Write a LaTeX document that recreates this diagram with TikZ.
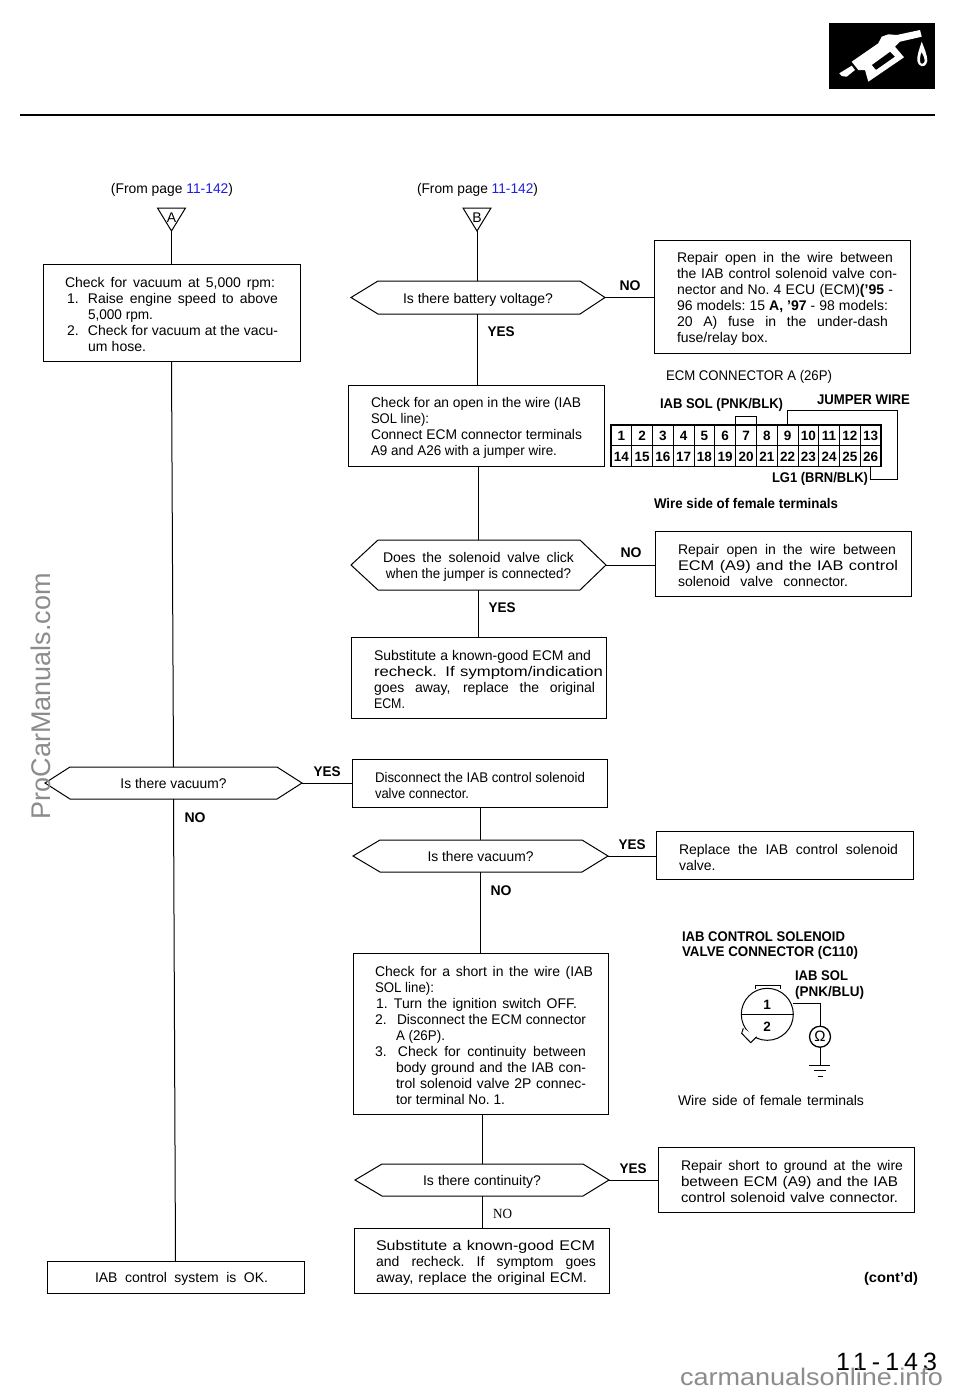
\documentclass[tikz,border=0pt]{standalone}
\usepackage{fontspec}
\usepackage{graphicx}
\setmainfont{Liberation Sans}
\newfontfamily\serifN{Liberation Serif}
\usetikzlibrary{calc}
\definecolor{linkblue}{RGB}{30,30,225}
\definecolor{wmgrey}{RGB}{140,140,140}
\newsavebox\fitb
\newcommand\Jw[2]{\sbox\fitb{\spaceskip=.278em\xspaceskip=.278em\relax#2}\ifdim\wd\fitb<#1pt\makebox[#1pt][s]{\spaceskip=.278em plus 1em\xspaceskip=.278em plus 1em\relax#2}\else\resizebox{#1pt}{\height}{\usebox\fitb}\fi}
\newcommand\Sw[2]{\resizebox{#1pt}{\height}{#2}}
\newcommand\HexOut[3]{\draw[flow] (#1.west) -- ($(#1.north west)+(#2,0)$) -- ($(#1.north east)+(-#3,0)$) -- (#1.east) -- ($(#1.south east)+(-#3,0)$) -- ($(#1.south west)+(#2,0)$) -- cycle;}
\newcommand\TriOut[1]{\draw[flow] (#1.north west) -- (#1.north east) -- (#1.south) -- cycle;}
\tikzset{
  flow/.style={line width=1pt,black},
  boxn/.style={draw,line width=1pt,anchor=north west,outer sep=0pt,inner ysep=0pt,align=left,font=\fontsize{14}{16}\selectfont,execute at begin node={\leavevmode\rule{0pt}{14.5pt}}},
  hexn/.style={inner sep=0pt,outer sep=0pt,align=center,font=\fontsize{14}{16}\selectfont,execute at begin node={\leavevmode\rule{0pt}{14.5pt}}},
  trin/.style={inner sep=0pt,outer sep=0pt,minimum width=28pt,minimum height=23pt,font=\fontsize{14}{14}\selectfont},
  txt/.style={inner sep=0pt,outer sep=0pt,yshift=-2pt,font=\fontsize{14}{16}\selectfont},
  bld/.style={inner sep=0pt,outer sep=0pt,yshift=-1pt,align=left,font=\fontsize{14}{16}\selectfont\bfseries},
  cell/.style={draw,line width=0.8pt,inner sep=0pt,outer sep=0pt,minimum width=20.77pt,minimum height=20.85pt,text height=9.6pt,text depth=0pt,font=\fontsize{13.5}{14}\selectfont\bfseries},
  wm/.style={inner sep=0pt,outer sep=0pt,text=wmgrey,font=\fontsize{27}{27}\selectfont},
}
\begin{document}
\begin{tikzpicture}[x=1pt,y=-1pt]
\useasboundingbox (0,0) rectangle (960,1393);
\fill[white] (0,0) rectangle (960,1393);

% header
\fill[black] (829,22.5) rectangle (935,89);
\draw[line width=2.2pt] (20,115) -- (935,115);
\fill[white,even odd rule]
  (839.3,73.3) -- (851.7,65.7) -- (855,70) -- (846.7,76.7) -- (841.7,76) -- cycle;
\fill[white,even odd rule]
  (851.7,61.7) -- (878.3,43.3) -- (881.7,36.7) -- (888.3,34.3) -- (896.7,35) -- (920,30) -- (921.7,36.7) -- (900,41.7) -- (895,46.7) -- (904,57.3) -- (868.3,81.7) -- (865,70) -- (858.3,70) -- cycle
  (871.7,65) -- (890,51.7) -- (895,56.7) -- (876,70) -- cycle;
\fill[white,even odd rule]
  (921.7,41.7) .. controls (919,50) and (917,55) .. (917.3,61) .. controls (918,66) and (925,70) .. (927.3,61) .. controls (927.5,55) and (924,48) .. (921.7,41.7) -- cycle
  (921.5,52) .. controls (920,56) and (919.5,60) .. (920.5,63) .. controls (922,65) and (925,63) .. (924.7,60) .. controls (924.5,57) and (923,55) .. (921.5,52) -- cycle;

% page references
\node[txt,anchor=center] (fromA) at (172,188) {\Jw{122}{(From page \textcolor{linkblue}{11-142})}};
\node[txt,anchor=center] (fromB) at (477.5,188) {\Jw{121}{(From page \textcolor{linkblue}{11-142})}};

% entry triangles
\node[trin] (tA) at (171.5,219.5) {\raisebox{3pt}{A}};
\node[trin] (tB) at (477,219.5) {\raisebox{3pt}{B}};
\TriOut{tA}\TriOut{tB}

% left column
\node[boxn,minimum height=97pt,text width=213pt,inner xsep=22pt] (chkvac) at (43,264) {%
\Jw{210}{Check for vacuum at 5,000 rpm:}\\
\hspace*{2pt}\makebox[21pt][l]{1.}\Jw{190}{Raise engine speed to above}\\
\hspace*{23pt}\Jw{65}{5,000 rpm.}\\
\hspace*{2pt}\makebox[21pt][l]{2.}\Jw{190}{Check for vacuum at the vacu-}\\
\hspace*{23pt}\Jw{58}{um hose.}};
\node[hexn,text width=257pt,minimum height=32pt] (vac1) at (173.5,783) {\raisebox{2pt}{\Jw{106}{Is there vacuum?}}};
\HexOut{vac1}{25}{25}
\node[boxn,minimum height=32pt,text width=161pt,inner xsep=48pt] (okbox) at (47,1261) {\Jw{173}{IAB control system is OK.}};

% right column, question and work boxes
\node[hexn,text width=254pt,minimum height=33pt] (batt) at (478,297.5) {\Jw{150}{Is there battery voltage?}};
\HexOut{batt}{27}{25}
\node[boxn,minimum height=113pt,text width=210pt,inner xsep=23pt] (rep1) at (654,240) {%
\Jw{216}{Repair open in the wire between}\\
\Jw{220}{the IAB control solenoid valve con-}\\
\Jw{216}{nector and No. 4 ECU (ECM)\textbf{('95} -}\\
\Jw{211}{96 models: 15 \textbf{A, '97} - 98 models:}\\
\Jw{211}{20 A) fuse in the under-dash}\\
\Jw{91}{fuse/relay box.}};
\node[boxn,minimum height=81pt,text width=210pt,inner xsep=23pt] (chkopen) at (348,385) {%
\Jw{210}{Check for an open in the wire (IAB}\\
\Jw{58}{SOL line):}\\
\Jw{211}{Connect ECM connector terminals}\\
\Jw{186}{A9 and A26 with a jumper wire.}};
\node[hexn,text width=255pt,minimum height=50pt] (click) at (478.5,565) {%
\Jw{191}{Does the solenoid valve click}\\\Jw{185}{when the jumper is connected?}};
\HexOut{click}{27}{26}
\node[boxn,minimum height=65pt,text width=210pt,inner xsep=23pt] (rep2) at (655,531) {%
\Jw{218}{Repair open in the wire between}\\
\Sw{220}{ECM (A9) and the IAB control}\\
\Jw{170}{solenoid valve connector.}};
\node[boxn,minimum height=81pt,text width=209pt,inner xsep=23pt] (subst1) at (351,637) {%
\Jw{217}{Substitute a known-good ECM and}\\
\Sw{229}{recheck. If symptom/indication}\\
\Jw{221}{goes away, replace the original}\\
\Sw{31}{ECM.}};
\node[boxn,minimum height=48pt,text width=209pt,inner xsep=23pt] (disc) at (352,759) {%
\Jw{210}{Disconnect the IAB control solenoid}\\
\Jw{94}{valve connector.}};
\node[hexn,text width=255pt,minimum height=32pt] (vac2) at (480.5,856) {\raisebox{2pt}{\Jw{106}{Is there vacuum?}}};
\HexOut{vac2}{27}{26}
\node[boxn,minimum height=48pt,text width=211pt,inner xsep=23pt] (repl) at (656,831) {%
\Jw{219}{Replace the IAB control solenoid}\\
\Jw{39}{valve.}};
\node[boxn,minimum height=161pt,text width=211pt,inner xsep=22pt] (chkshort) at (353,953) {%
\Jw{218}{Check for a short in the wire (IAB}\\
\Jw{59}{SOL line):}\\
\hspace*{1pt}\makebox[18pt][l]{1.}\Jw{183}{Turn the ignition switch OFF.}\\
\makebox[22pt][l]{2.}\Jw{189}{Disconnect the ECM connector}\\
\hspace*{21pt}\Jw{49}{A (26P).}\\
\makebox[23pt][l]{3.}\Jw{188}{Check for continuity between}\\
\hspace*{21pt}\Jw{190}{body ground and the IAB con-}\\
\hspace*{21pt}\Jw{190}{trol solenoid valve 2P connec-}\\
\hspace*{21pt}\Jw{109}{tor terminal No. 1.}};
\node[hexn,text width=254pt,minimum height=32pt] (cont) at (482,1180) {\Jw{118}{Is there continuity?}};
\HexOut{cont}{27}{26}
\node[boxn,minimum height=65pt,text width=210pt,inner xsep=23pt] (rep3) at (658,1147) {%
\Jw{222}{Repair short to ground at the wire}\\
\Sw{217}{between ECM (A9) and the IAB}\\
\Sw{217}{control solenoid valve connector.}};
\node[boxn,minimum height=65pt,text width=211pt,inner xsep=22pt] (subst2) at (354,1228) {%
\Sw{219}{Substitute a known-good ECM}\\
\Jw{220}{and recheck. If symptom goes}\\
\Sw{211}{away, replace the original ECM.}};

% connectors
\draw[flow] (tA.south) -- (chkvac.north-|tA.south);
\draw[flow] (chkvac.south-|tA.south) -- (vac1.north);
\draw[flow] (vac1.south) -- (okbox.north);
\draw[flow] (vac1.east) -- (vac1.east-|disc.west);
\draw[flow] (tB.south) -- (batt.north-|tB.south);
\draw[flow] (batt.east) -- (batt.east-|rep1.west);
\draw[flow] (batt.south-|tB.south) -- (chkopen.north-|tB.south);
\draw[flow] (click.north) -- (chkopen.south-|click.north);
\draw[flow] (click.east) -- (click.east-|rep2.west);
\draw[flow] (click.south) -- (subst1.north-|click.south);
\draw[flow] (vac2.north) -- (disc.south-|vac2.north);
\draw[flow] (vac2.east) -- (vac2.east-|repl.west);
\draw[flow] (vac2.south) -- (chkshort.north-|vac2.south);
\draw[flow] (cont.north) -- (chkshort.south-|cont.north);
\draw[flow] (cont.east) -- (cont.east-|rep3.west);
\node[txt,font=\fontsize{14}{16}\serifN] (nolast) at (502.5,1212) {\Sw{19}{NO}};
\draw[flow] (cont.south) -- (subst2.north-|cont.south);

% branch labels
\node[bld] (ynvac1) at (327,771) {\Sw{27}{YES}};
\node[bld] (nvac1) at (195,817) {\Sw{21}{NO}};
\node[bld] (nbatt) at (630,285) {\Sw{21}{NO}};
\node[bld] (ybatt) at (501,331) {\Sw{27}{YES}};
\node[bld] (nclick) at (631,552) {\Sw{21}{NO}};
\node[bld] (yclick) at (502,607) {\Sw{27}{YES}};
\node[bld] (yvac2) at (632,844) {\Sw{27}{YES}};
\node[bld] (nvac2) at (501,890) {\Sw{21}{NO}};
\node[bld] (ycont) at (633,1168) {\Sw{27}{YES}};

% ECM connector
\node[txt] (ecmt) at (749,375) {\Jw{166}{ECM CONNECTOR A (26P)}};
\node[bld] (iabblk) at (721.5,404) {\Sw{123}{IAB SOL (PNK/BLK)}};
\node[bld] (jump) at (863.5,399) {\Sw{93}{JUMPER WIRE}};
\node[bld] (lg1) at (820,478) {\Sw{96}{LG1 (BRN/BLK)}};
\node[bld] (wsb) at (746,502) {\Sw{184}{Wire side of female terminals}};
\foreach \i in {1,...,13}{
  \node[cell] (c\i) at ({611+(\i-0.5)*20.77},435.4) {\i};
}
\foreach \i in {14,...,26}{
  \node[cell] (c\i) at ({611+(\i-13.5)*20.77},456.3) {\i};
}
\draw[line width=1.4pt] (c1.north west) rectangle (c26.south east);
\draw[flow] (c7.north west) -- ++(0,-8) -| (c7.north east);
\coordinate (jt) at (897.7,410);
\coordinate (jb) at (897.7,479);
\draw[flow] (c9.north) |- (jt) -- (jb) -| (c26.south);

% solenoid connector
\node[bld] (iabc1) at (763.5,936) {\Sw{163}{IAB CONTROL SOLENOID}};
\node[bld] (iabc2) at (770,952) {\Sw{176}{VALVE CONNECTOR (C110)}};
\node[bld] (iabblu1) at (821.5,975) {\Sw{53}{IAB SOL}};
\node[bld] (iabblu2) at (829.5,992) {\Sw{69}{(PNK/BLU)}};
\draw[flow] (755,988.5) -- (755,985) -- (780,985) -- (780,988.5);
\node[circle,draw,line width=1pt,minimum size=52pt,inner sep=0pt,outer sep=0pt] (plug) at (767.3,1014.3) {};
\draw[flow] (plug.west) -- (plug.east);
\draw[flow,fill=white] (743.3,1028.3) -- (741.7,1033.3) -- (750.7,1042.7) -- (756.7,1036.7);
\node[bld,font=\fontsize{13.5}{14}\selectfont\bfseries] (pin1) at (767,1004) {1};
\node[bld,font=\fontsize{13.5}{14}\selectfont\bfseries] (pin2) at (767,1026) {2};
\node[circle,draw,line width=1.3pt,minimum size=21pt,inner sep=0pt,outer sep=0pt,font=\fontsize{15}{15}\selectfont] (ohm) at (820,1036.7) {Ω};
\coordinate (wstart) at (793.3,1003.3);
\draw[flow] (wstart) -| (ohm.north);
\coordinate (gnd) at (820,1065.7);
\draw[flow] (ohm.south) -- (gnd);
\draw[flow] ($(gnd)+(-11,0)$) -- ($(gnd)+(10,0)$);
\draw[flow] ($(gnd)+(-6,5)$) -- ($(gnd)+(6,5)$);
\draw[flow] ($(gnd)+(-2.5,10.3)$) -- ($(gnd)+(2.5,10.3)$);
\node[txt] (wsr) at (771,1098) {\Jw{186}{Wire side of female terminals}};

% page furniture
\node[bld] (contd) at (891,1278) {\Sw{54}{(cont'd)}};
\node[txt,font=\fontsize{25}{25}\selectfont\addfontfeature{LetterSpace=20}] (pagen) at (886.5,1359.5) {11-143};
\node[wm,rotate=90] (wm1) at (41,696) {ProCarManuals.com};
\node[wm,anchor=base,font=\fontsize{24}{24}\selectfont] (wm2) at (811.5,1385) {\Sw{263}{carmanualsonline.info}};
\end{tikzpicture}
\end{document}
